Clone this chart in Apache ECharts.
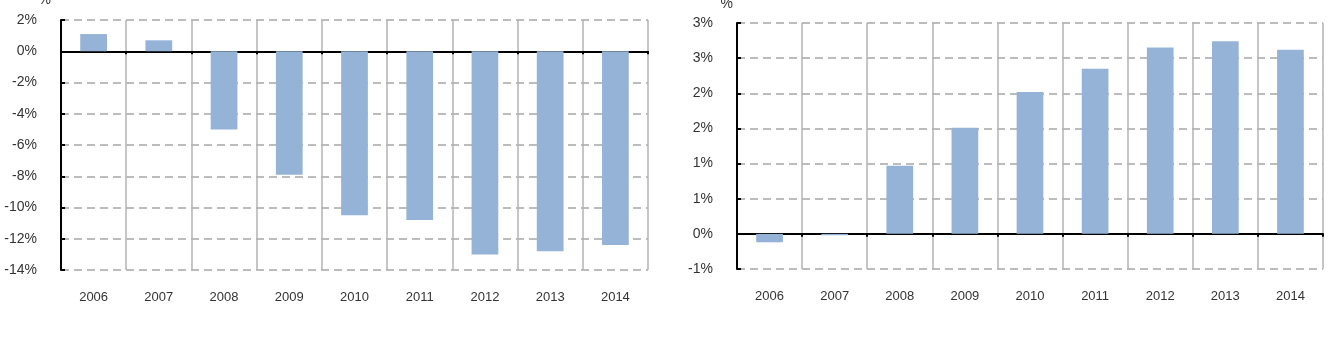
<!DOCTYPE html>
<html><head><meta charset="utf-8">
<script src="https://cdn.jsdelivr.net/npm/echarts@6/dist/echarts.min.js"></script>
<style>html,body{margin:0;padding:0;background:#fff}#c{width:1329px;height:341px}</style>
</head><body><div id="c"></div>
<script>
const years = ['2006','2007','2008','2009','2010','2011','2012','2013','2014'];
const leftValues = [1.1, 0.7, -5.0, -7.9, -10.5, -10.8, -13.0, -12.8, -12.4];
const rightValues = [-0.12, -0.02, 0.97, 1.51, 2.02, 2.35, 2.65, 2.74, 2.62];
const leftTickValues = [-14, -12, -10, -8, -6, -4, -2, 0, 2];
const leftTickLabels = ['-14%', '-12%', '-10%', '-8%', '-6%', '-4%', '-2%', '0%', '2%'];
const rightTickValues = [-0.5, 0, 0.5, 1, 1.5, 2, 2.5, 3];
const rightTickLabels = ['-1%', '0%', '1%', '1%', '2%', '2%', '3%', '3%'];

const FONT = 'Liberation Sans, Arial, sans-serif';
const BAR = '#95b3d7';
function lab(vals, labels) {
  return v => { const i = vals.findIndex(t => Math.abs(t - v) < 1e-6); return i >= 0 ? labels[i] : ''; };
}
function xAxes(gi) {
  return [
    { type: 'category', gridIndex: gi, data: years, position: 'bottom',
      axisLine: { show: false, onZero: false }, axisTick: { show: false },
      axisLabel: { color: '#333', fontFamily: FONT, fontSize: 13, margin: 21 },
      splitLine: { show: true, interval: 0, lineStyle: { color: '#b3b3b3', width: 1.5 } } },
    { type: 'category', gridIndex: gi, data: years, position: 'bottom',
      axisLine: { show: true, onZero: true, lineStyle: { color: '#000', width: 2 } },
      axisTick: { show: true, inside: false, length: 3, interval: 0, lineStyle: { color: '#000', width: 2 } },
      axisLabel: { show: false }, splitLine: { show: false } }
  ];
}
function yAxis(gi, min, max, interval, vals, labels, gap, padR) {
  return { type: 'value', gridIndex: gi, min, max, interval,
    name: '%', nameLocation: 'end', nameGap: gap,
    nameTextStyle: { color: '#333', fontFamily: FONT, fontSize: 14, align: 'right', padding: [0, padR, 0, 0] },
    axisLine: { show: true, lineStyle: { color: '#000', width: 2 } },
    axisTick: { show: true, inside: true, length: 4, lineStyle: { color: '#000', width: 2 } },
    axisLabel: { color: '#333', fontFamily: FONT, fontSize: 14, margin: 24, formatter: lab(vals, labels) },
    splitLine: { show: true, lineStyle: { color: '#a6a6a6', width: 1.5, type: [8, 5] } } };
}
const chart = echarts.init(document.getElementById('c'), null, { renderer: 'canvas' });
const xs = xAxes(0).concat(xAxes(1));
chart.setOption({
  animation: false,
  backgroundColor: '#fff',
  grid: [
    { left: 61, right: 681, top: 20, bottom: 71, containLabel: false, outerBoundsMode: 'none' },
    { left: 737, right: 6, top: 23, bottom: 72, containLabel: false, outerBoundsMode: 'none' }
  ],
  xAxis: xs,
  yAxis: [
    yAxis(0, -14, 2, 2, leftTickValues, leftTickLabels, 13, 10),
    yAxis(1, -0.5, 3, 0.5, rightTickValues, rightTickLabels, 12, 4)
  ],
  series: [
    { type: 'bar', xAxisIndex: 0, yAxisIndex: 0, data: leftValues, barWidth: '41%', itemStyle: { color: BAR }, z: 1 },
    { type: 'bar', xAxisIndex: 2, yAxisIndex: 1, data: rightValues, barWidth: '41%', itemStyle: { color: BAR }, z: 1 }
  ]
});
</script></body></html>
